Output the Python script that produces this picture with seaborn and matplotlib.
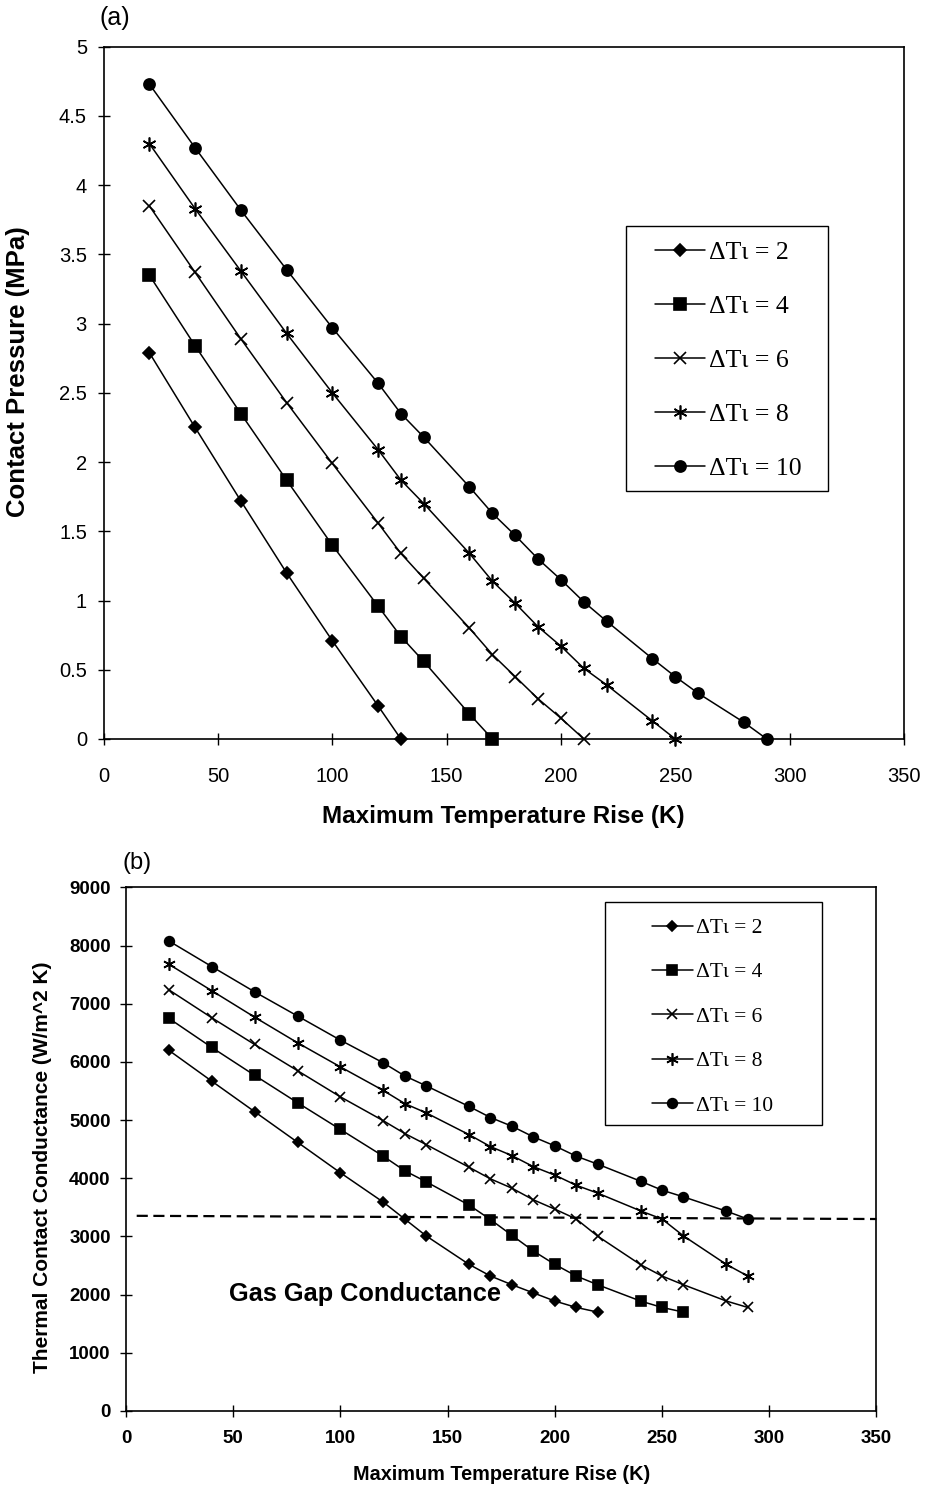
import matplotlib
matplotlib.use("Agg")
import matplotlib.pyplot as plt
from matplotlib.patches import Rectangle
import seaborn as sns
import pandas as pd

# ---- data ----
dt_labels = ["ΔTι = 2", "ΔTι = 4", "ΔTι = 6", "ΔTι = 8", "ΔTι = 10"]

# panel (a): contact pressure (MPa)
xa_2 = [20, 40, 60, 80, 100, 120, 130]
ya_2 = [2.79, 2.25, 1.72, 1.20, 0.71, 0.24, 0.0]
xa_4 = [20, 40, 60, 80, 100, 120, 130, 140, 160, 170]
ya_4 = [3.35, 2.84, 2.35, 1.87, 1.40, 0.96, 0.74, 0.56, 0.18, 0.0]
xa_6 = [20, 40, 60, 80, 100, 120, 130, 140, 160, 170, 180, 190, 200, 210]
ya_6 = [3.85, 3.37, 2.89, 2.43, 1.99, 1.56, 1.34, 1.16, 0.80, 0.61, 0.45, 0.29, 0.15, 0.0]
xa_8 = [20, 40, 60, 80, 100, 120, 130, 140, 160, 170, 180, 190, 200, 210, 220, 240, 250]
ya_8 = [4.30, 3.83, 3.38, 2.93, 2.50, 2.09, 1.87, 1.70, 1.34, 1.14, 0.98, 0.81, 0.67,
        0.51, 0.39, 0.13, 0.0]
xa_10 = [20, 40, 60, 80, 100, 120, 130, 140, 160, 170, 180, 190, 200, 210, 220, 240,
         250, 260, 280, 290]
ya_10 = [4.73, 4.27, 3.82, 3.39, 2.97, 2.57, 2.35, 2.18, 1.82, 1.63, 1.47, 1.30, 1.15,
         0.99, 0.85, 0.58, 0.45, 0.33, 0.12, 0.0]

# panel (b): thermal contact conductance (W/m^2 K)
xb_2 = [20, 40, 60, 80, 100, 120, 130, 140, 160, 170, 180, 190, 200, 210, 220]
yb_2 = [6200, 5670, 5145, 4620, 4095, 3590, 3300, 3010, 2520, 2320, 2170, 2030, 1890,
        1780, 1700]
xb_4 = [20, 40, 60, 80, 100, 120, 130, 140, 160, 170, 180, 190, 200, 210, 220, 240,
        250, 260]
yb_4 = [6750, 6250, 5770, 5300, 4840, 4380, 4130, 3940, 3540, 3290, 3020, 2750, 2520,
        2320, 2170, 1890, 1780, 1700]
xb_long = [20, 40, 60, 80, 100, 120, 130, 140, 160, 170, 180, 190, 200, 210, 220, 240,
           250, 260, 280, 290]
yb_6 = [7240, 6760, 6300, 5850, 5400, 4990, 4770, 4580, 4190, 3990, 3830, 3630, 3470,
        3300, 3005, 2515, 2320, 2170, 1890, 1780]
yb_8 = [7680, 7225, 6770, 6330, 5915, 5510, 5285, 5125, 4750, 4545, 4390, 4200, 4055,
        3880, 3745, 3440, 3300, 3010, 2520, 2320]
yb_10 = [8080, 7640, 7205, 6790, 6375, 5985, 5760, 5590, 5235, 5045, 4895, 4712, 4557,
         4380, 4243, 3950, 3796, 3681, 3435, 3300]

# gas gap conductance reference line
gas_x = [5, 350]
gas_y = [3355, 3300]

xticks = [0, 50, 100, 150, 200, 250, 300, 350]
yticks_a = [0, 0.5, 1, 1.5, 2, 2.5, 3, 3.5, 4, 4.5, 5]
ytick_labels_a = ["0", "0.5", "1", "1.5", "2", "2.5", "3", "3.5", "4", "4.5", "5"]
yticks_b = [0, 1000, 2000, 3000, 4000, 5000, 6000, 7000, 8000, 9000]

series_a = [(xa_2, ya_2), (xa_4, ya_4), (xa_6, ya_6), (xa_8, ya_8), (xa_10, ya_10)]
series_b = [(xb_2, yb_2), (xb_4, yb_4), (xb_long, yb_6), (xb_long, yb_8), (xb_long, yb_10)]

# marker styles per series
marker_list = ["D", "s", "x", (6, 2, 0), "o"]
msize_a = [6.5, 8.5, 8, 10, 8]
msize_b = [5.5, 7.5, 7, 9, 7]

sns.set_style("ticks")
plt.rcParams["font.family"] = ["Liberation Sans", "DejaVu Sans"]
plt.rcParams["axes.linewidth"] = 1.2
for key in ["text.color", "axes.labelcolor", "xtick.color", "ytick.color",
            "axes.edgecolor"]:
    plt.rcParams[key] = "black"

fig = plt.figure(figsize=(9.29, 14.95), dpi=100)
ax1 = fig.add_axes([0.1115, 0.5057, 0.8616, 0.4631])
ax2 = fig.add_axes([0.1356, 0.0562, 0.8078, 0.3502])


def draw_series(ax, series, sizes):
    handles = []
    for (xs, ys), mk, ms, lab in zip(series, marker_list, sizes, dt_labels):
        df = pd.DataFrame({"x": xs, "y": ys})
        sns.lineplot(data=df, x="x", y="y", ax=ax, color="black", lw=1.1,
                     marker=mk, markersize=ms, markeredgecolor="black",
                     markerfacecolor="black", markeredgewidth=1.2,
                     label=lab, clip_on=False, legend=False)
        handles.append(ax.lines[-1])
    return handles


def boxed_legend(ax, handles, left, top, box, fsize, hlen, lspace):
    # legend content without frame, plus a plain rectangular box around it
    leg = ax.legend(handles=handles, labels=dt_labels, loc="upper left",
                    bbox_to_anchor=(left / 929, 1 - top / 1495),
                    bbox_transform=fig.transFigure, frameon=False,
                    borderaxespad=0, borderpad=0, labelspacing=lspace,
                    handlelength=hlen, handletextpad=0.15,
                    prop={"family": "Liberation Serif", "size": fsize})
    x0, y0, x1, y1 = box
    fig.patches.append(Rectangle((x0 / 929, 1 - y1 / 1495), (x1 - x0) / 929,
                                 (y1 - y0) / 1495, transform=fig.transFigure,
                                 fill=False, edgecolor="black", lw=1.0))
    return leg


h1 = draw_series(ax1, series_a, msize_a)
h2 = draw_series(ax2, series_b, msize_b)

# panel (a) axes
ax1.set_xlim(0, 350)
ax1.set_ylim(0, 5)
ax1.set_xticks(xticks)
ax1.set_yticks(yticks_a)
ax1.set_yticklabels(ytick_labels_a)
ax1.tick_params(axis="both", direction="inout", length=8, width=1, labelsize=14.5)
ax1.tick_params(axis="x", pad=16)
ax1.tick_params(axis="y", pad=8)
for s in ax1.spines.values():
    s.set_visible(True)
ax1.set_xlabel("Maximum Temperature Rise (K)", fontsize=17.5, fontweight="bold")
ax1.set_ylabel("Contact Pressure (MPa)", fontsize=18.5, fontweight="bold")
ax1.xaxis.set_label_coords(0.5, -0.095)
ax1.yaxis.set_label_coords(-0.092, 0.53)
fig.text(100 / 929, 1 - 18 / 1495, "(a)", fontsize=18, va="center", ha="left")
boxed_legend(ax1, h1, 655, 241, (626, 226, 828, 491), 18.5, 1.95, 1.21)

# panel (b) axes
ax2.set_xlim(0, 350)
ax2.set_ylim(0, 9000)
ax2.set_xticks(xticks)
ax2.set_yticks(yticks_b)
ax2.tick_params(axis="both", direction="inout", length=8, width=1, labelsize=13.5)
ax2.tick_params(axis="x", pad=10)
ax2.tick_params(axis="y", pad=7)
for lbl in ax2.get_xticklabels() + ax2.get_yticklabels():
    lbl.set_fontweight("bold")
for s in ax2.spines.values():
    s.set_visible(True)
ax2.plot(gas_x, gas_y, color="black", lw=1.6, ls=(0, (5, 2.5)), clip_on=False)
ax2.text(48, 2010, "Gas Gap Conductance", fontsize=18.3, fontweight="bold",
         va="center", ha="left")
ax2.set_xlabel("Maximum Temperature Rise (K)", fontsize=14.3, fontweight="bold")
ax2.set_ylabel("Thermal Contact Conductance (W/m^2 K)", fontsize=15,
               fontweight="bold")
ax2.xaxis.set_label_coords(0.501, -0.103)
ax2.yaxis.set_label_coords(-0.099, 0.466)
fig.text(123 / 929, 1 - 863 / 1495, "(b)", fontsize=17, va="center", ha="left")
boxed_legend(ax2, h2, 652, 918, (605, 902, 822, 1125), 15.5, 1.9, 1.13)

fig.savefig("out.png", dpi=100, facecolor="white")
